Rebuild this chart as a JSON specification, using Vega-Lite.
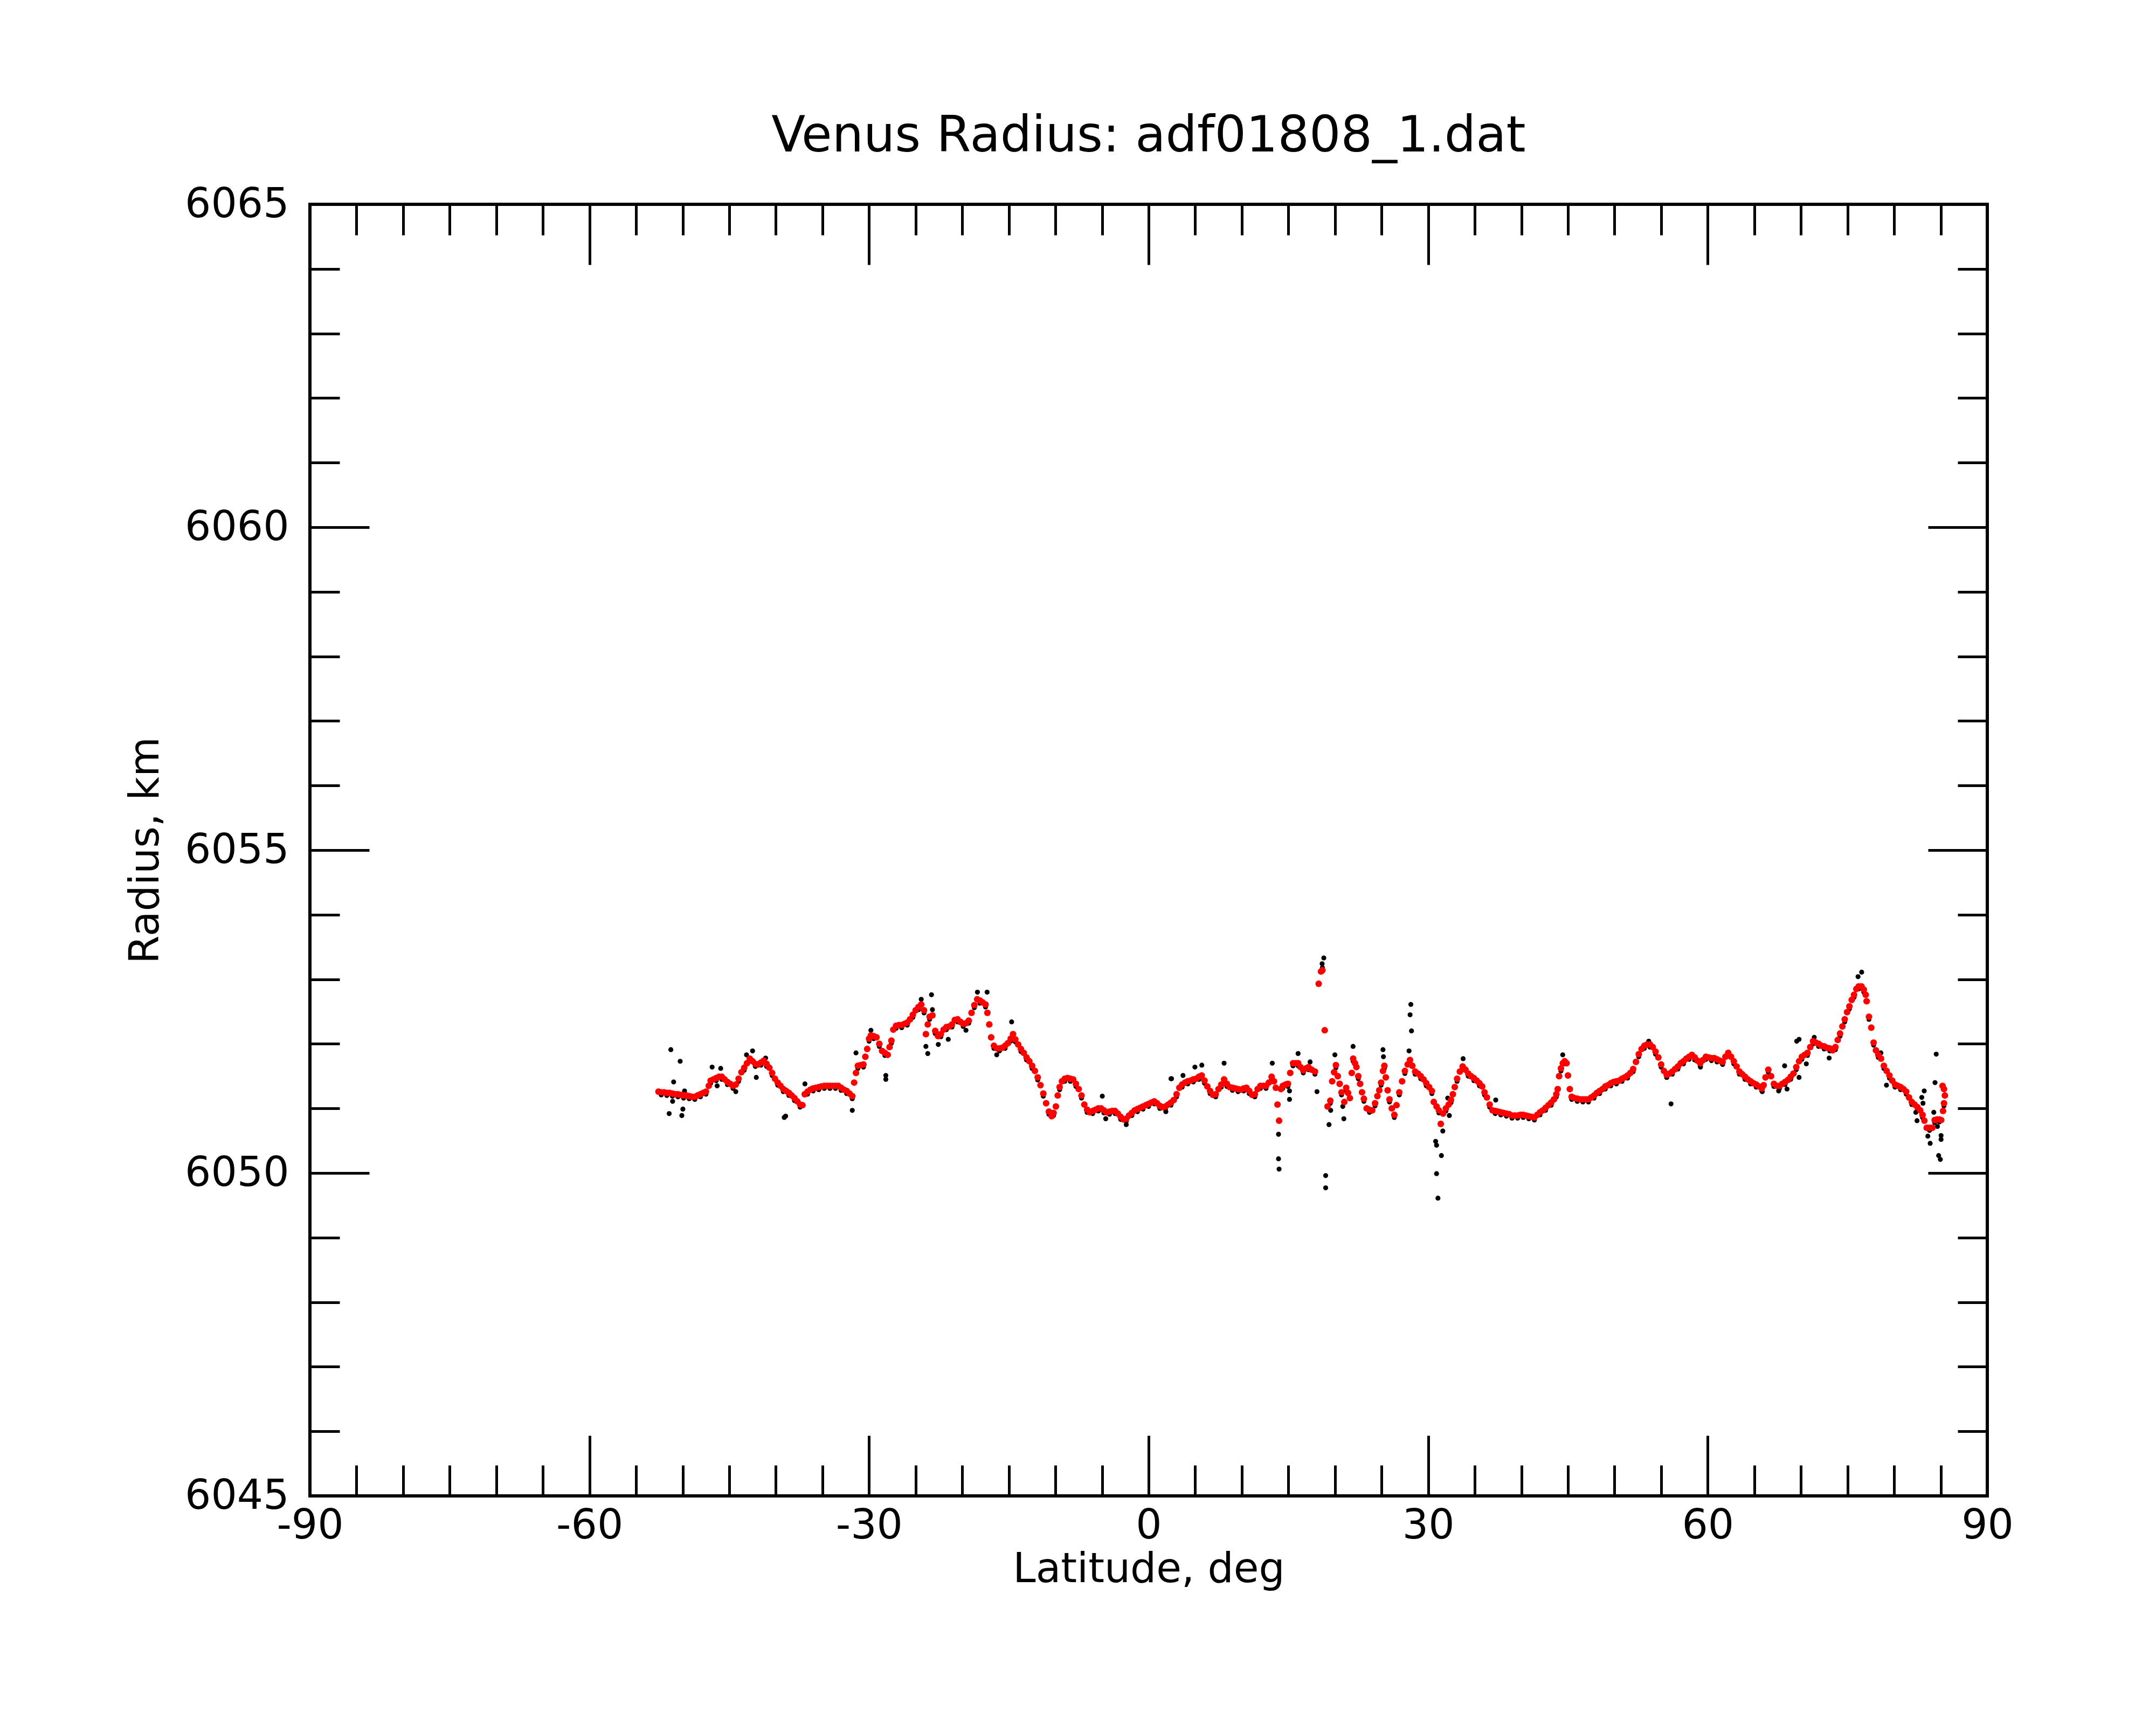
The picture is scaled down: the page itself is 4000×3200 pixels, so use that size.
{
"$schema":"https://vega.github.io/schema/vega-lite/v6.json",
"autosize":{"type":"none"},
"padding":{"left":575,"top":379,"right":313,"bottom":425},
"width":3112,"height":2396,
"background":"white",
"title":{"text":"Venus Radius: adf01808_1.dat","fontSize":92,"font":"DejaVu Sans","fontWeight":"normal","color":"#000000","anchor":"middle","frame":"group","baseline":"alphabetic","offset":-32},
"config":{"view":{"stroke":"#000000","strokeWidth":6},"axis":{"grid":false,"labelFont":"DejaVu Sans","titleFont":"DejaVu Sans","labelColor":"#000000","titleColor":"#000000","tickColor":"#000000","titleFontWeight":"normal","tickCap":"butt","labelLimit":0}},
"datasets":{
"red":[
{"lat":-52.6,"radius":6051.26},{"lat":-52.3,"radius":6051.25},{"lat":-52.0,"radius":6051.25},{"lat":-51.7,"radius":6051.24},{"lat":-51.4,"radius":6051.24},{"lat":-51.1,"radius":6051.23},{"lat":-50.8,"radius":6051.22},{"lat":-50.5,"radius":6051.22},{"lat":-50.2,"radius":6051.21},{"lat":-49.9,"radius":6051.2},{"lat":-49.6,"radius":6051.2},{"lat":-49.3,"radius":6051.19},{"lat":-49.0,"radius":6051.18},{"lat":-48.7,"radius":6051.18},{"lat":-48.4,"radius":6051.2},{"lat":-48.1,"radius":6051.22},{"lat":-47.8,"radius":6051.24},{"lat":-47.5,"radius":6051.26},{"lat":-47.2,"radius":6051.35},{"lat":-47.0,"radius":6051.43},{"lat":-46.7,"radius":6051.45},{"lat":-46.4,"radius":6051.47},{"lat":-46.1,"radius":6051.49},{"lat":-45.8,"radius":6051.49},{"lat":-45.5,"radius":6051.45},{"lat":-45.2,"radius":6051.41},{"lat":-44.9,"radius":6051.38},{"lat":-44.6,"radius":6051.35},{"lat":-44.3,"radius":6051.37},{"lat":-44.0,"radius":6051.46},{"lat":-43.7,"radius":6051.56},{"lat":-43.4,"radius":6051.63},{"lat":-43.1,"radius":6051.7},{"lat":-42.8,"radius":6051.77},{"lat":-42.5,"radius":6051.73},{"lat":-42.2,"radius":6051.69},{"lat":-41.9,"radius":6051.68},{"lat":-41.6,"radius":6051.71},{"lat":-41.3,"radius":6051.74},{"lat":-41.0,"radius":6051.69},{"lat":-40.7,"radius":6051.63},{"lat":-40.4,"radius":6051.55},{"lat":-40.1,"radius":6051.46},{"lat":-39.8,"radius":6051.4},{"lat":-39.5,"radius":6051.35},{"lat":-39.2,"radius":6051.3},{"lat":-38.9,"radius":6051.27},{"lat":-38.6,"radius":6051.24},{"lat":-38.3,"radius":6051.2},{"lat":-38.0,"radius":6051.16},{"lat":-37.7,"radius":6051.11},{"lat":-37.4,"radius":6051.06},{"lat":-37.15,"radius":6051.05},{"lat":-36.9,"radius":6051.22},{"lat":-36.6,"radius":6051.26},{"lat":-36.3,"radius":6051.29},{"lat":-36.0,"radius":6051.31},{"lat":-35.7,"radius":6051.32},{"lat":-35.4,"radius":6051.33},{"lat":-35.1,"radius":6051.34},{"lat":-34.8,"radius":6051.35},{"lat":-34.5,"radius":6051.35},{"lat":-34.2,"radius":6051.35},{"lat":-33.9,"radius":6051.35},{"lat":-33.6,"radius":6051.35},{"lat":-33.3,"radius":6051.35},{"lat":-33.0,"radius":6051.32},{"lat":-32.7,"radius":6051.29},{"lat":-32.4,"radius":6051.27},{"lat":-32.1,"radius":6051.23},{"lat":-31.8,"radius":6051.19},{"lat":-31.6,"radius":6051.4},{"lat":-31.4,"radius":6051.55},{"lat":-31.2,"radius":6051.66},{"lat":-30.9,"radius":6051.67},{"lat":-30.6,"radius":6051.68},{"lat":-30.4,"radius":6051.8},{"lat":-30.2,"radius":6051.92},{"lat":-30.0,"radius":6052.08},{"lat":-29.8,"radius":6052.13},{"lat":-29.5,"radius":6052.12},{"lat":-29.2,"radius":6052.1},{"lat":-28.9,"radius":6052.0},{"lat":-28.6,"radius":6051.89},{"lat":-28.3,"radius":6051.86},{"lat":-28.0,"radius":6051.83},{"lat":-27.8,"radius":6051.95},{"lat":-27.6,"radius":6052.05},{"lat":-27.4,"radius":6052.22},{"lat":-27.1,"radius":6052.28},{"lat":-26.8,"radius":6052.29},{"lat":-26.5,"radius":6052.29},{"lat":-26.2,"radius":6052.31},{"lat":-25.9,"radius":6052.33},{"lat":-25.6,"radius":6052.38},{"lat":-25.3,"radius":6052.45},{"lat":-25.0,"radius":6052.52},{"lat":-24.7,"radius":6052.57},{"lat":-24.4,"radius":6052.61},{"lat":-24.1,"radius":6052.52},{"lat":-23.9,"radius":6052.15},{"lat":-23.7,"radius":6052.3},{"lat":-23.5,"radius":6052.42},{"lat":-23.2,"radius":6052.44},{"lat":-22.9,"radius":6052.2},{"lat":-22.6,"radius":6052.12},{"lat":-22.3,"radius":6052.15},{"lat":-22.0,"radius":6052.22},{"lat":-21.7,"radius":6052.26},{"lat":-21.4,"radius":6052.27},{"lat":-21.1,"radius":6052.3},{"lat":-20.8,"radius":6052.37},{"lat":-20.5,"radius":6052.38},{"lat":-20.2,"radius":6052.34},{"lat":-19.9,"radius":6052.31},{"lat":-19.6,"radius":6052.32},{"lat":-19.3,"radius":6052.36},{"lat":-19.0,"radius":6052.48},{"lat":-18.7,"radius":6052.6},{"lat":-18.4,"radius":6052.69},{"lat":-18.1,"radius":6052.67},{"lat":-17.8,"radius":6052.64},{"lat":-17.5,"radius":6052.61},{"lat":-17.3,"radius":6052.48},{"lat":-17.1,"radius":6052.3},{"lat":-16.9,"radius":6052.1},{"lat":-16.6,"radius":6051.97},{"lat":-16.3,"radius":6051.93},{"lat":-16.0,"radius":6051.93},{"lat":-15.7,"radius":6051.94},{"lat":-15.4,"radius":6051.97},{"lat":-15.1,"radius":6052.01},{"lat":-14.8,"radius":6052.08},{"lat":-14.55,"radius":6052.15},{"lat":-14.3,"radius":6052.07},{"lat":-14.0,"radius":6051.99},{"lat":-13.7,"radius":6051.92},{"lat":-13.4,"radius":6051.86},{"lat":-13.1,"radius":6051.79},{"lat":-12.8,"radius":6051.73},{"lat":-12.5,"radius":6051.66},{"lat":-12.2,"radius":6051.58},{"lat":-11.9,"radius":6051.48},{"lat":-11.6,"radius":6051.36},{"lat":-11.3,"radius":6051.23},{"lat":-11.0,"radius":6051.08},{"lat":-10.7,"radius":6050.95},{"lat":-10.4,"radius":6050.88},{"lat":-10.2,"radius":6050.93},{"lat":-9.95,"radius":6051.03},{"lat":-9.75,"radius":6051.2},{"lat":-9.55,"radius":6051.33},{"lat":-9.3,"radius":6051.42},{"lat":-9.0,"radius":6051.46},{"lat":-8.7,"radius":6051.47},{"lat":-8.4,"radius":6051.46},{"lat":-8.1,"radius":6051.45},{"lat":-7.8,"radius":6051.38},{"lat":-7.5,"radius":6051.3},{"lat":-7.2,"radius":6051.2},{"lat":-6.9,"radius":6051.06},{"lat":-6.6,"radius":6050.98},{"lat":-6.3,"radius":6050.94},{"lat":-6.0,"radius":6050.96},{"lat":-5.7,"radius":6050.98},{"lat":-5.4,"radius":6051.0},{"lat":-5.1,"radius":6051.0},{"lat":-4.8,"radius":6050.97},{"lat":-4.5,"radius":6050.94},{"lat":-4.2,"radius":6050.95},{"lat":-3.9,"radius":6050.96},{"lat":-3.6,"radius":6050.96},{"lat":-3.3,"radius":6050.92},{"lat":-3.0,"radius":6050.87},{"lat":-2.7,"radius":6050.83},{"lat":-2.4,"radius":6050.84},{"lat":-2.1,"radius":6050.89},{"lat":-1.8,"radius":6050.93},{"lat":-1.5,"radius":6050.97},{"lat":-1.2,"radius":6050.99},{"lat":-0.9,"radius":6051.01},{"lat":-0.6,"radius":6051.03},{"lat":-0.3,"radius":6051.05},{"lat":0.0,"radius":6051.07},{"lat":0.3,"radius":6051.09},{"lat":0.6,"radius":6051.11},{"lat":0.9,"radius":6051.08},{"lat":1.2,"radius":6051.04},{"lat":1.5,"radius":6051.02},{"lat":1.8,"radius":6051.03},{"lat":2.1,"radius":6051.06},{"lat":2.4,"radius":6051.09},{"lat":2.7,"radius":6051.13},{"lat":3.0,"radius":6051.22},{"lat":3.3,"radius":6051.32},{"lat":3.6,"radius":6051.37},{"lat":3.9,"radius":6051.4},{"lat":4.2,"radius":6051.42},{"lat":4.5,"radius":6051.43},{"lat":4.8,"radius":6051.45},{"lat":5.1,"radius":6051.46},{"lat":5.4,"radius":6051.49},{"lat":5.7,"radius":6051.51},{"lat":6.0,"radius":6051.43},{"lat":6.3,"radius":6051.34},{"lat":6.6,"radius":6051.27},{"lat":6.9,"radius":6051.21},{"lat":7.2,"radius":6051.22},{"lat":7.5,"radius":6051.3},{"lat":7.8,"radius":6051.37},{"lat":8.1,"radius":6051.45},{"lat":8.4,"radius":6051.38},{"lat":8.7,"radius":6051.33},{"lat":9.0,"radius":6051.32},{"lat":9.3,"radius":6051.31},{"lat":9.6,"radius":6051.3},{"lat":9.9,"radius":6051.29},{"lat":10.2,"radius":6051.31},{"lat":10.5,"radius":6051.32},{"lat":10.8,"radius":6051.27},{"lat":11.1,"radius":6051.21},{"lat":11.4,"radius":6051.22},{"lat":11.7,"radius":6051.3},{"lat":12.0,"radius":6051.35},{"lat":12.3,"radius":6051.35},{"lat":12.6,"radius":6051.35},{"lat":12.9,"radius":6051.4},{"lat":13.2,"radius":6051.49},{"lat":13.45,"radius":6051.42},{"lat":13.65,"radius":6051.32},{"lat":13.83,"radius":6051.06},{"lat":14.0,"radius":6050.81},{"lat":14.2,"radius":6051.3},{"lat":14.4,"radius":6051.35},{"lat":14.7,"radius":6051.37},{"lat":14.95,"radius":6051.38},{"lat":15.2,"radius":6051.55},{"lat":15.5,"radius":6051.7},{"lat":15.8,"radius":6051.7},{"lat":16.05,"radius":6051.7},{"lat":16.3,"radius":6051.64},{"lat":16.6,"radius":6051.59},{"lat":16.9,"radius":6051.62},{"lat":17.15,"radius":6051.64},{"lat":17.5,"radius":6051.6},{"lat":17.85,"radius":6051.57},{"lat":18.25,"radius":6052.93},{"lat":18.5,"radius":6053.12},{"lat":18.65,"radius":6053.14},{"lat":18.9,"radius":6052.21},{"lat":19.2,"radius":6051.03},{"lat":19.5,"radius":6051.12},{"lat":19.7,"radius":6051.42},{"lat":19.9,"radius":6051.56},{"lat":20.1,"radius":6051.67},{"lat":20.3,"radius":6051.5},{"lat":20.5,"radius":6051.38},{"lat":20.7,"radius":6051.25},{"lat":21.0,"radius":6051.1},{"lat":21.2,"radius":6051.32},{"lat":21.4,"radius":6051.24},{"lat":21.6,"radius":6051.16},{"lat":21.8,"radius":6051.55},{"lat":21.95,"radius":6051.77},{"lat":22.15,"radius":6051.7},{"lat":22.3,"radius":6051.64},{"lat":22.5,"radius":6051.5},{"lat":22.7,"radius":6051.38},{"lat":22.9,"radius":6051.25},{"lat":23.1,"radius":6051.15},{"lat":23.4,"radius":6051.0},{"lat":23.7,"radius":6050.98},{"lat":24.0,"radius":6050.97},{"lat":24.3,"radius":6051.08},{"lat":24.55,"radius":6051.19},{"lat":24.75,"radius":6051.28},{"lat":24.95,"radius":6051.4},{"lat":25.15,"radius":6051.58},{"lat":25.3,"radius":6051.66},{"lat":25.45,"radius":6051.48},{"lat":25.65,"radius":6051.28},{"lat":25.85,"radius":6051.14},{"lat":26.1,"radius":6051.0},{"lat":26.37,"radius":6050.9},{"lat":26.6,"radius":6051.05},{"lat":26.9,"radius":6051.25},{"lat":27.2,"radius":6051.42},{"lat":27.5,"radius":6051.58},{"lat":27.8,"radius":6051.68},{"lat":28.05,"radius":6051.75},{"lat":28.3,"radius":6051.66},{"lat":28.6,"radius":6051.57},{"lat":28.9,"radius":6051.54},{"lat":29.2,"radius":6051.5},{"lat":29.5,"radius":6051.45},{"lat":29.8,"radius":6051.39},{"lat":30.1,"radius":6051.33},{"lat":30.4,"radius":6051.27},{"lat":30.6,"radius":6051.1},{"lat":30.9,"radius":6051.03},{"lat":31.15,"radius":6050.97},{"lat":31.35,"radius":6050.76},{"lat":31.6,"radius":6050.92},{"lat":31.9,"radius":6051.0},{"lat":32.2,"radius":6051.06},{"lat":32.45,"radius":6051.13},{"lat":32.65,"radius":6051.22},{"lat":32.85,"radius":6051.33},{"lat":33.1,"radius":6051.46},{"lat":33.4,"radius":6051.57},{"lat":33.7,"radius":6051.65},{"lat":34.0,"radius":6051.6},{"lat":34.3,"radius":6051.54},{"lat":34.6,"radius":6051.5},{"lat":34.9,"radius":6051.47},{"lat":35.2,"radius":6051.43},{"lat":35.5,"radius":6051.39},{"lat":35.8,"radius":6051.34},{"lat":36.05,"radius":6051.25},{"lat":36.3,"radius":6051.17},{"lat":36.6,"radius":6051.06},{"lat":36.9,"radius":6050.97},{"lat":37.2,"radius":6050.96},{"lat":37.5,"radius":6050.95},{"lat":37.8,"radius":6050.94},{"lat":38.1,"radius":6050.93},{"lat":38.4,"radius":6050.92},{"lat":38.7,"radius":6050.91},{"lat":39.0,"radius":6050.89},{"lat":39.3,"radius":6050.89},{"lat":39.6,"radius":6050.89},{"lat":39.9,"radius":6050.9},{"lat":40.2,"radius":6050.9},{"lat":40.5,"radius":6050.89},{"lat":40.8,"radius":6050.88},{"lat":41.1,"radius":6050.87},{"lat":41.4,"radius":6050.86},{"lat":41.7,"radius":6050.9},{"lat":42.0,"radius":6050.94},{"lat":42.3,"radius":6050.97},{"lat":42.6,"radius":6051.01},{"lat":42.9,"radius":6051.05},{"lat":43.2,"radius":6051.09},{"lat":43.5,"radius":6051.14},{"lat":43.75,"radius":6051.22},{"lat":43.9,"radius":6051.3},{"lat":44.05,"radius":6051.5},{"lat":44.25,"radius":6051.62},{"lat":44.45,"radius":6051.7},{"lat":44.65,"radius":6051.73},{"lat":44.85,"radius":6051.7},{"lat":45.0,"radius":6051.51},{"lat":45.2,"radius":6051.3},{"lat":45.4,"radius":6051.18},{"lat":45.7,"radius":6051.16},{"lat":46.0,"radius":6051.15},{"lat":46.3,"radius":6051.14},{"lat":46.6,"radius":6051.14},{"lat":46.9,"radius":6051.14},{"lat":47.2,"radius":6051.14},{"lat":47.5,"radius":6051.17},{"lat":47.8,"radius":6051.2},{"lat":48.1,"radius":6051.24},{"lat":48.4,"radius":6051.27},{"lat":48.7,"radius":6051.3},{"lat":49.0,"radius":6051.34},{"lat":49.3,"radius":6051.36},{"lat":49.6,"radius":6051.39},{"lat":49.9,"radius":6051.41},{"lat":50.2,"radius":6051.42},{"lat":50.5,"radius":6051.43},{"lat":50.8,"radius":6051.46},{"lat":51.1,"radius":6051.48},{"lat":51.4,"radius":6051.51},{"lat":51.7,"radius":6051.55},{"lat":52.0,"radius":6051.61},{"lat":52.3,"radius":6051.72},{"lat":52.6,"radius":6051.84},{"lat":52.9,"radius":6051.92},{"lat":53.2,"radius":6051.97},{"lat":53.5,"radius":6051.99},{"lat":53.8,"radius":6051.99},{"lat":54.1,"radius":6051.95},{"lat":54.4,"radius":6051.88},{"lat":54.7,"radius":6051.79},{"lat":55.0,"radius":6051.68},{"lat":55.3,"radius":6051.58},{"lat":55.6,"radius":6051.52},{"lat":55.9,"radius":6051.54},{"lat":56.2,"radius":6051.57},{"lat":56.5,"radius":6051.61},{"lat":56.8,"radius":6051.65},{"lat":57.1,"radius":6051.7},{"lat":57.4,"radius":6051.73},{"lat":57.7,"radius":6051.77},{"lat":58.0,"radius":6051.8},{"lat":58.3,"radius":6051.83},{"lat":58.6,"radius":6051.79},{"lat":58.9,"radius":6051.74},{"lat":59.2,"radius":6051.7},{"lat":59.5,"radius":6051.75},{"lat":59.8,"radius":6051.8},{"lat":60.1,"radius":6051.79},{"lat":60.4,"radius":6051.78},{"lat":60.7,"radius":6051.78},{"lat":61.0,"radius":6051.76},{"lat":61.3,"radius":6051.74},{"lat":61.6,"radius":6051.72},{"lat":61.9,"radius":6051.8},{"lat":62.2,"radius":6051.86},{"lat":62.5,"radius":6051.8},{"lat":62.8,"radius":6051.73},{"lat":63.1,"radius":6051.65},{"lat":63.4,"radius":6051.57},{"lat":63.7,"radius":6051.53},{"lat":64.0,"radius":6051.49},{"lat":64.3,"radius":6051.45},{"lat":64.6,"radius":6051.42},{"lat":64.9,"radius":6051.39},{"lat":65.2,"radius":6051.37},{"lat":65.5,"radius":6051.34},{"lat":65.8,"radius":6051.31},{"lat":66.0,"radius":6051.36},{"lat":66.2,"radius":6051.48},{"lat":66.5,"radius":6051.6},{"lat":66.8,"radius":6051.5},{"lat":67.1,"radius":6051.38},{"lat":67.4,"radius":6051.35},{"lat":67.7,"radius":6051.35},{"lat":68.0,"radius":6051.38},{"lat":68.3,"radius":6051.41},{"lat":68.6,"radius":6051.44},{"lat":68.9,"radius":6051.49},{"lat":69.2,"radius":6051.54},{"lat":69.5,"radius":6051.64},{"lat":69.8,"radius":6051.73},{"lat":70.1,"radius":6051.8},{"lat":70.4,"radius":6051.83},{"lat":70.7,"radius":6051.86},{"lat":71.0,"radius":6051.95},{"lat":71.3,"radius":6052.04},{"lat":71.6,"radius":6052.02},{"lat":71.9,"radius":6052.0},{"lat":72.2,"radius":6051.97},{"lat":72.5,"radius":6051.96},{"lat":72.8,"radius":6051.94},{"lat":73.1,"radius":6051.93},{"lat":73.4,"radius":6051.9},{"lat":73.7,"radius":6051.95},{"lat":73.95,"radius":6052.06},{"lat":74.2,"radius":6052.16},{"lat":74.45,"radius":6052.27},{"lat":74.7,"radius":6052.38},{"lat":74.95,"radius":6052.49},{"lat":75.2,"radius":6052.58},{"lat":75.45,"radius":6052.68},{"lat":75.7,"radius":6052.76},{"lat":75.95,"radius":6052.85},{"lat":76.2,"radius":6052.89},{"lat":76.5,"radius":6052.89},{"lat":76.75,"radius":6052.84},{"lat":76.95,"radius":6052.76},{"lat":77.05,"radius":6052.66},{"lat":77.3,"radius":6052.42},{"lat":77.55,"radius":6052.25},{"lat":77.8,"radius":6052.02},{"lat":78.05,"radius":6051.9},{"lat":78.3,"radius":6051.83},{"lat":78.6,"radius":6051.77},{"lat":78.9,"radius":6051.66},{"lat":79.2,"radius":6051.58},{"lat":79.5,"radius":6051.51},{"lat":79.8,"radius":6051.43},{"lat":80.1,"radius":6051.37},{"lat":80.4,"radius":6051.35},{"lat":80.7,"radius":6051.33},{"lat":81.0,"radius":6051.3},{"lat":81.3,"radius":6051.26},{"lat":81.6,"radius":6051.17},{"lat":81.9,"radius":6051.1},{"lat":82.2,"radius":6051.06},{"lat":82.5,"radius":6051.02},{"lat":82.8,"radius":6050.97},{"lat":83.05,"radius":6050.9},{"lat":83.25,"radius":6050.81},{"lat":83.5,"radius":6050.7},{"lat":83.8,"radius":6050.7},{"lat":84.1,"radius":6050.7},{"lat":84.35,"radius":6050.82},{"lat":84.6,"radius":6050.83},{"lat":84.85,"radius":6050.83},{"lat":85.05,"radius":6050.82},{"lat":85.25,"radius":6050.96},{"lat":85.35,"radius":6051.08},{"lat":85.45,"radius":6051.2},{"lat":85.35,"radius":6051.3},{"lat":85.2,"radius":6051.35}
],
"black":[
{"lat":-52.3,"radius":6051.21},{"lat":-51.7,"radius":6051.2},{"lat":-51.1,"radius":6051.19},{"lat":-50.5,"radius":6051.18},{"lat":-49.9,"radius":6051.16},{"lat":-49.3,"radius":6051.15},{"lat":-48.7,"radius":6051.14},{"lat":-48.1,"radius":6051.18},{"lat":-47.5,"radius":6051.22},{"lat":-47.0,"radius":6051.39},{"lat":-46.4,"radius":6051.43},{"lat":-45.8,"radius":6051.45},{"lat":-45.2,"radius":6051.37},{"lat":-44.6,"radius":6051.31},{"lat":-44.0,"radius":6051.42},{"lat":-43.4,"radius":6051.59},{"lat":-42.8,"radius":6051.73},{"lat":-42.2,"radius":6051.65},{"lat":-41.6,"radius":6051.67},{"lat":-41.0,"radius":6051.65},{"lat":-40.4,"radius":6051.51},{"lat":-39.8,"radius":6051.36},{"lat":-39.2,"radius":6051.26},{"lat":-38.6,"radius":6051.2},{"lat":-38.0,"radius":6051.12},{"lat":-37.4,"radius":6051.02},{"lat":-36.6,"radius":6051.22},{"lat":-36.0,"radius":6051.27},{"lat":-35.4,"radius":6051.29},{"lat":-34.8,"radius":6051.31},{"lat":-34.2,"radius":6051.31},{"lat":-33.6,"radius":6051.31},{"lat":-33.0,"radius":6051.28},{"lat":-32.4,"radius":6051.23},{"lat":-31.8,"radius":6051.15},{"lat":-31.2,"radius":6051.62},{"lat":-30.6,"radius":6051.64},{"lat":-30.0,"radius":6052.04},{"lat":-29.5,"radius":6052.08},{"lat":-28.9,"radius":6051.96},{"lat":-28.3,"radius":6051.82},{"lat":-27.6,"radius":6052.01},{"lat":-27.1,"radius":6052.24},{"lat":-26.5,"radius":6052.25},{"lat":-25.9,"radius":6052.29},{"lat":-25.3,"radius":6052.41},{"lat":-24.7,"radius":6052.53},{"lat":-24.1,"radius":6052.48},{"lat":-23.5,"radius":6052.38},{"lat":-22.9,"radius":6052.16},{"lat":-22.3,"radius":6052.11},{"lat":-21.7,"radius":6052.22},{"lat":-21.1,"radius":6052.26},{"lat":-20.5,"radius":6052.34},{"lat":-19.9,"radius":6052.27},{"lat":-19.3,"radius":6052.32},{"lat":-18.7,"radius":6052.56},{"lat":-18.1,"radius":6052.63},{"lat":-17.5,"radius":6052.57},{"lat":-16.6,"radius":6051.93},{"lat":-16.0,"radius":6051.89},{"lat":-15.4,"radius":6051.93},{"lat":-14.8,"radius":6052.04},{"lat":-14.3,"radius":6052.03},{"lat":-13.7,"radius":6051.88},{"lat":-13.1,"radius":6051.75},{"lat":-12.5,"radius":6051.62},{"lat":-11.9,"radius":6051.44},{"lat":-11.3,"radius":6051.19},{"lat":-10.7,"radius":6050.91},{"lat":-10.2,"radius":6050.89},{"lat":-9.55,"radius":6051.29},{"lat":-9.0,"radius":6051.42},{"lat":-8.4,"radius":6051.42},{"lat":-7.8,"radius":6051.34},{"lat":-7.2,"radius":6051.16},{"lat":-6.6,"radius":6050.94},{"lat":-6.0,"radius":6050.92},{"lat":-5.4,"radius":6050.96},{"lat":-4.8,"radius":6050.93},{"lat":-4.2,"radius":6050.91},{"lat":-3.6,"radius":6050.92},{"lat":-3.0,"radius":6050.83},{"lat":-2.4,"radius":6050.8},{"lat":-1.8,"radius":6050.89},{"lat":-1.2,"radius":6050.95},{"lat":-0.6,"radius":6050.99},{"lat":0.0,"radius":6051.03},{"lat":0.6,"radius":6051.07},{"lat":1.2,"radius":6051.0},{"lat":1.8,"radius":6050.99},{"lat":2.4,"radius":6051.05},{"lat":3.0,"radius":6051.18},{"lat":3.6,"radius":6051.33},{"lat":4.2,"radius":6051.38},{"lat":4.8,"radius":6051.41},{"lat":5.4,"radius":6051.45},{"lat":6.0,"radius":6051.39},{"lat":6.6,"radius":6051.23},{"lat":7.2,"radius":6051.18},{"lat":7.8,"radius":6051.33},{"lat":8.4,"radius":6051.34},{"lat":9.0,"radius":6051.28},{"lat":9.6,"radius":6051.26},{"lat":10.2,"radius":6051.27},{"lat":10.8,"radius":6051.23},{"lat":11.4,"radius":6051.18},{"lat":12.0,"radius":6051.31},{"lat":12.6,"radius":6051.31},{"lat":13.2,"radius":6051.45},{"lat":14.4,"radius":6051.31},{"lat":14.95,"radius":6051.34},{"lat":15.5,"radius":6051.66},{"lat":16.05,"radius":6051.66},{"lat":16.6,"radius":6051.55},{"lat":17.15,"radius":6051.6},{"lat":17.85,"radius":6051.53},{"lat":18.65,"radius":6053.18},{"lat":19.5,"radius":6051.08},{"lat":20.1,"radius":6051.63},{"lat":20.7,"radius":6051.21},{"lat":21.2,"radius":6051.28},{"lat":21.95,"radius":6051.73},{"lat":22.5,"radius":6051.46},{"lat":23.1,"radius":6051.11},{"lat":23.7,"radius":6050.94},{"lat":24.3,"radius":6051.04},{"lat":24.95,"radius":6051.36},{"lat":25.3,"radius":6051.62},{"lat":25.85,"radius":6051.1},{"lat":26.37,"radius":6050.86},{"lat":26.9,"radius":6051.21},{"lat":27.5,"radius":6051.54},{"lat":28.05,"radius":6051.71},{"lat":28.6,"radius":6051.53},{"lat":29.2,"radius":6051.46},{"lat":29.8,"radius":6051.35},{"lat":30.4,"radius":6051.23},{"lat":31.15,"radius":6050.93},{"lat":31.9,"radius":6050.96},{"lat":32.45,"radius":6051.09},{"lat":33.1,"radius":6051.42},{"lat":33.7,"radius":6051.61},{"lat":34.3,"radius":6051.5},{"lat":34.9,"radius":6051.43},{"lat":35.5,"radius":6051.35},{"lat":36.05,"radius":6051.21},{"lat":36.6,"radius":6051.02},{"lat":37.2,"radius":6050.92},{"lat":37.8,"radius":6050.9},{"lat":38.4,"radius":6050.88},{"lat":39.0,"radius":6050.85},{"lat":39.6,"radius":6050.85},{"lat":40.2,"radius":6050.86},{"lat":40.8,"radius":6050.84},{"lat":41.4,"radius":6050.82},{"lat":42.0,"radius":6050.9},{"lat":42.6,"radius":6050.97},{"lat":43.2,"radius":6051.05},{"lat":43.75,"radius":6051.18},{"lat":44.25,"radius":6051.58},{"lat":44.65,"radius":6051.69},{"lat":45.4,"radius":6051.14},{"lat":46.0,"radius":6051.11},{"lat":46.6,"radius":6051.1},{"lat":47.2,"radius":6051.1},{"lat":47.8,"radius":6051.16},{"lat":48.4,"radius":6051.23},{"lat":49.0,"radius":6051.3},{"lat":49.6,"radius":6051.35},{"lat":50.2,"radius":6051.38},{"lat":50.8,"radius":6051.42},{"lat":51.4,"radius":6051.47},{"lat":52.0,"radius":6051.57},{"lat":52.6,"radius":6051.8},{"lat":53.2,"radius":6051.93},{"lat":53.8,"radius":6051.95},{"lat":54.4,"radius":6051.84},{"lat":55.0,"radius":6051.64},{"lat":55.6,"radius":6051.48},{"lat":56.2,"radius":6051.53},{"lat":56.8,"radius":6051.61},{"lat":57.4,"radius":6051.69},{"lat":58.0,"radius":6051.76},{"lat":58.6,"radius":6051.75},{"lat":59.2,"radius":6051.66},{"lat":59.8,"radius":6051.76},{"lat":60.4,"radius":6051.74},{"lat":61.0,"radius":6051.72},{"lat":61.6,"radius":6051.68},{"lat":62.2,"radius":6051.82},{"lat":62.8,"radius":6051.69},{"lat":63.4,"radius":6051.53},{"lat":64.0,"radius":6051.45},{"lat":64.6,"radius":6051.38},{"lat":65.2,"radius":6051.33},{"lat":65.8,"radius":6051.27},{"lat":66.5,"radius":6051.56},{"lat":67.1,"radius":6051.34},{"lat":67.7,"radius":6051.31},{"lat":68.3,"radius":6051.37},{"lat":68.9,"radius":6051.45},{"lat":69.5,"radius":6051.6},{"lat":70.1,"radius":6051.76},{"lat":70.7,"radius":6051.82},{"lat":71.3,"radius":6052.0},{"lat":71.9,"radius":6051.96},{"lat":72.5,"radius":6051.92},{"lat":73.1,"radius":6051.89},{"lat":73.7,"radius":6051.91},{"lat":74.2,"radius":6052.12},{"lat":74.7,"radius":6052.34},{"lat":75.2,"radius":6052.54},{"lat":75.7,"radius":6052.72},{"lat":76.2,"radius":6052.85},{"lat":76.75,"radius":6052.8},{"lat":77.3,"radius":6052.38},{"lat":77.8,"radius":6051.98},{"lat":78.3,"radius":6051.79},{"lat":78.9,"radius":6051.62},{"lat":79.5,"radius":6051.47},{"lat":80.1,"radius":6051.33},{"lat":80.7,"radius":6051.29},{"lat":81.3,"radius":6051.22},{"lat":81.9,"radius":6051.06},{"lat":82.5,"radius":6050.98},{"lat":83.05,"radius":6050.86},{"lat":83.8,"radius":6050.66},{"lat":84.35,"radius":6050.78},{"lat":84.85,"radius":6050.79},{"lat":85.35,"radius":6051.04},
{"lat":-51.27,"radius":6051.91},{"lat":-50.27,"radius":6051.73},{"lat":-50.97,"radius":6051.41},{"lat":-51.08,"radius":6051.11},{"lat":-51.45,"radius":6050.92},{"lat":-49.98,"radius":6050.99},{"lat":-50.09,"radius":6050.89},{"lat":-49.8,"radius":6051.27},{"lat":-46.84,"radius":6051.64},{"lat":-45.92,"radius":6051.62},{"lat":-46.3,"radius":6051.35},{"lat":-42.5,"radius":6051.89},{"lat":-43.15,"radius":6051.83},{"lat":-41.1,"radius":6051.78},{"lat":-42.1,"radius":6051.48},{"lat":-44.3,"radius":6051.26},{"lat":-39.1,"radius":6050.86},{"lat":-38.95,"radius":6050.88},{"lat":-36.88,"radius":6051.38},{"lat":-31.8,"radius":6050.97},{"lat":-31.4,"radius":6051.86},{"lat":-29.8,"radius":6052.21},{"lat":-28.2,"radius":6051.51},{"lat":-28.2,"radius":6051.45},{"lat":-24.4,"radius":6052.69},{"lat":-23.3,"radius":6052.76},{"lat":-23.2,"radius":6052.53},{"lat":-23.9,"radius":6051.96},{"lat":-23.7,"radius":6051.85},{"lat":-22.57,"radius":6051.99},{"lat":-21.5,"radius":6052.07},{"lat":-18.37,"radius":6052.8},{"lat":-17.33,"radius":6052.8},{"lat":-19.6,"radius":6052.21},{"lat":-14.7,"radius":6052.34},{"lat":-16.3,"radius":6051.83},{"lat":-4.97,"radius":6051.19},{"lat":-4.6,"radius":6050.84},{"lat":-2.4,"radius":6050.75},{"lat":2.4,"radius":6051.46},{"lat":1.85,"radius":6050.95},{"lat":3.69,"radius":6051.51},{"lat":18.8,"radius":6053.33},{"lat":18.62,"radius":6053.24},{"lat":2.46,"radius":6051.46},{"lat":4.97,"radius":6051.64},{"lat":5.71,"radius":6051.67},{"lat":8.1,"radius":6051.7},{"lat":13.27,"radius":6051.7},{"lat":13.94,"radius":6050.6},{"lat":13.94,"radius":6050.22},{"lat":14.0,"radius":6050.06},{"lat":15.12,"radius":6051.14},{"lat":15.12,"radius":6051.27},{"lat":16.04,"radius":6051.85},{"lat":17.33,"radius":6051.72},{"lat":18.07,"radius":6051.26},{"lat":19.0,"radius":6049.96},{"lat":19.0,"radius":6049.77},{"lat":19.36,"radius":6050.75},{"lat":19.54,"radius":6050.97},{"lat":19.99,"radius":6051.83},{"lat":20.95,"radius":6050.84},{"lat":20.84,"radius":6051.03},{"lat":21.94,"radius":6051.96},{"lat":25.15,"radius":6051.91},{"lat":25.2,"radius":6051.8},{"lat":28.14,"radius":6052.61},{"lat":28.06,"radius":6052.45},{"lat":28.21,"radius":6052.2},{"lat":27.95,"radius":6051.89},{"lat":29.87,"radius":6051.35},{"lat":30.8,"radius":6050.49},{"lat":30.9,"radius":6050.43},{"lat":31.42,"radius":6050.27},{"lat":30.9,"radius":6049.99},{"lat":31.05,"radius":6049.61},{"lat":31.57,"radius":6050.65},{"lat":32.27,"radius":6050.89},{"lat":32.1,"radius":6051.16},{"lat":33.75,"radius":6051.77},{"lat":37.25,"radius":6051.13},{"lat":44.44,"radius":6051.83},{"lat":56.06,"radius":6051.07},{"lat":76.52,"radius":6053.11},{"lat":76.13,"radius":6053.04},{"lat":69.8,"radius":6052.07},{"lat":69.55,"radius":6052.04},{"lat":71.43,"radius":6052.1},{"lat":68.25,"radius":6051.66},{"lat":69.8,"radius":6051.48},{"lat":70.58,"radius":6051.69},{"lat":73.03,"radius":6051.78},{"lat":78.58,"radius":6051.86},{"lat":79.18,"radius":6051.36},{"lat":84.52,"radius":6051.84},{"lat":84.39,"radius":6051.4},{"lat":83.23,"radius":6051.27},{"lat":82.97,"radius":6051.17},{"lat":83.1,"radius":6051.08},{"lat":82.33,"radius":6050.94},{"lat":82.46,"radius":6050.81},{"lat":84.26,"radius":6050.94},{"lat":83.62,"radius":6050.57},{"lat":83.87,"radius":6050.46},{"lat":85.04,"radius":6050.58},{"lat":85.04,"radius":6050.52},{"lat":84.78,"radius":6050.27},{"lat":84.96,"radius":6050.21},{"lat":84.65,"radius":6050.72},{"lat":68.51,"radius":6051.3},{"lat":67.61,"radius":6051.27},{"lat":65.85,"radius":6051.26},{"lat":59.22,"radius":6051.64},{"lat":61.54,"radius":6051.7},{"lat":55.6,"radius":6051.48},{"lat":53.67,"radius":6052.04}
]
},
"layer":[
{"data":{"name":"black"},"mark":{"type":"circle","size":85,"color":"#000000","opacity":1},
 "encoding":{
  "x":{"field":"lat","type":"quantitative","scale":{"domain":[-90,90],"nice":false,"zero":false},
       "axis":{"orient":"bottom","values":[-90,-60,-30,0,30,60,90],"ticks":false,"domain":false,"labelExpr":"''+datum.value","labelFontSize":76,"labelPadding":18,"labelFlush":false,"labelOverlap":false,"labelBound":false,"title":"Latitude, deg","titleFontSize":76,"titlePadding":6}},
  "y":{"field":"radius","type":"quantitative","scale":{"domain":[6045,6065],"nice":false,"zero":false},
       "axis":{"orient":"left","values":[6045,6050,6055,6060,6065],"ticks":false,"domain":false,"format":"d","labelFontSize":76,"labelPadding":39,"labelFlush":false,"labelOverlap":false,"labelBound":false,"title":"Radius, km","titleFontSize":76,"titlePadding":66}}
 }},
{"data":{"name":"red"},"mark":{"type":"circle","size":150,"color":"#ff0000","opacity":1},
 "encoding":{
  "x":{"field":"lat","type":"quantitative","scale":{"domain":[-90,90],"nice":false,"zero":false},
       "axis":{"orient":"bottom","values":[-90,-60,-30,0,30,60,90],"labels":false,"domain":false,"ticks":true,"tickSize":-112,"tickWidth":5,"title":null}},
  "y":{"field":"radius","type":"quantitative","scale":{"domain":[6045,6065],"nice":false,"zero":false},
       "axis":{"orient":"left","values":[6045,6050,6055,6060,6065],"labels":false,"domain":false,"ticks":true,"tickSize":-110,"tickWidth":5,"title":null}}
 }},
{"data":{"name":"red"},"mark":{"type":"circle","size":80,"opacity":0},
 "encoding":{
  "x":{"field":"lat","type":"quantitative","scale":{"domain":[-90,90],"nice":false,"zero":false},
       "axis":{"orient":"bottom","values":[-85,-80,-75,-70,-65,-55,-50,-45,-40,-35,-25,-20,-15,-10,-5,5,10,15,20,25,35,40,45,50,55,65,70,75,80,85],"labels":false,"domain":false,"ticks":true,"tickSize":-57,"tickWidth":5,"title":null}},
  "y":{"field":"radius","type":"quantitative","scale":{"domain":[6045,6065],"nice":false,"zero":false},
       "axis":{"orient":"left","values":[6046,6047,6048,6049,6051,6052,6053,6054,6056,6057,6058,6059,6061,6062,6063,6064],"labels":false,"domain":false,"ticks":true,"tickSize":-55,"tickWidth":5,"title":null}}
 }},
{"data":{"name":"red"},"mark":{"type":"circle","size":80,"opacity":0},
 "encoding":{
  "x":{"field":"lat","type":"quantitative","scale":{"domain":[-90,90],"nice":false,"zero":false},
       "axis":{"orient":"top","values":[-90,-60,-30,0,30,60,90],"labels":false,"domain":false,"ticks":true,"tickSize":-112,"tickWidth":5,"title":null}},
  "y":{"field":"radius","type":"quantitative","scale":{"domain":[6045,6065],"nice":false,"zero":false},
       "axis":{"orient":"right","values":[6045,6050,6055,6060,6065],"labels":false,"domain":false,"ticks":true,"tickSize":-110,"tickWidth":5,"title":null}}
 }},
{"data":{"name":"red"},"mark":{"type":"circle","size":80,"opacity":0},
 "encoding":{
  "x":{"field":"lat","type":"quantitative","scale":{"domain":[-90,90],"nice":false,"zero":false},
       "axis":{"orient":"top","values":[-85,-80,-75,-70,-65,-55,-50,-45,-40,-35,-25,-20,-15,-10,-5,5,10,15,20,25,35,40,45,50,55,65,70,75,80,85],"labels":false,"domain":false,"ticks":true,"tickSize":-57,"tickWidth":5,"title":null}},
  "y":{"field":"radius","type":"quantitative","scale":{"domain":[6045,6065],"nice":false,"zero":false},
       "axis":{"orient":"right","values":[6046,6047,6048,6049,6051,6052,6053,6054,6056,6057,6058,6059,6061,6062,6063,6064],"labels":false,"domain":false,"ticks":true,"tickSize":-55,"tickWidth":5,"title":null}}
 }}
],
"resolve":{"axis":{"x":"independent","y":"independent"}}
}
